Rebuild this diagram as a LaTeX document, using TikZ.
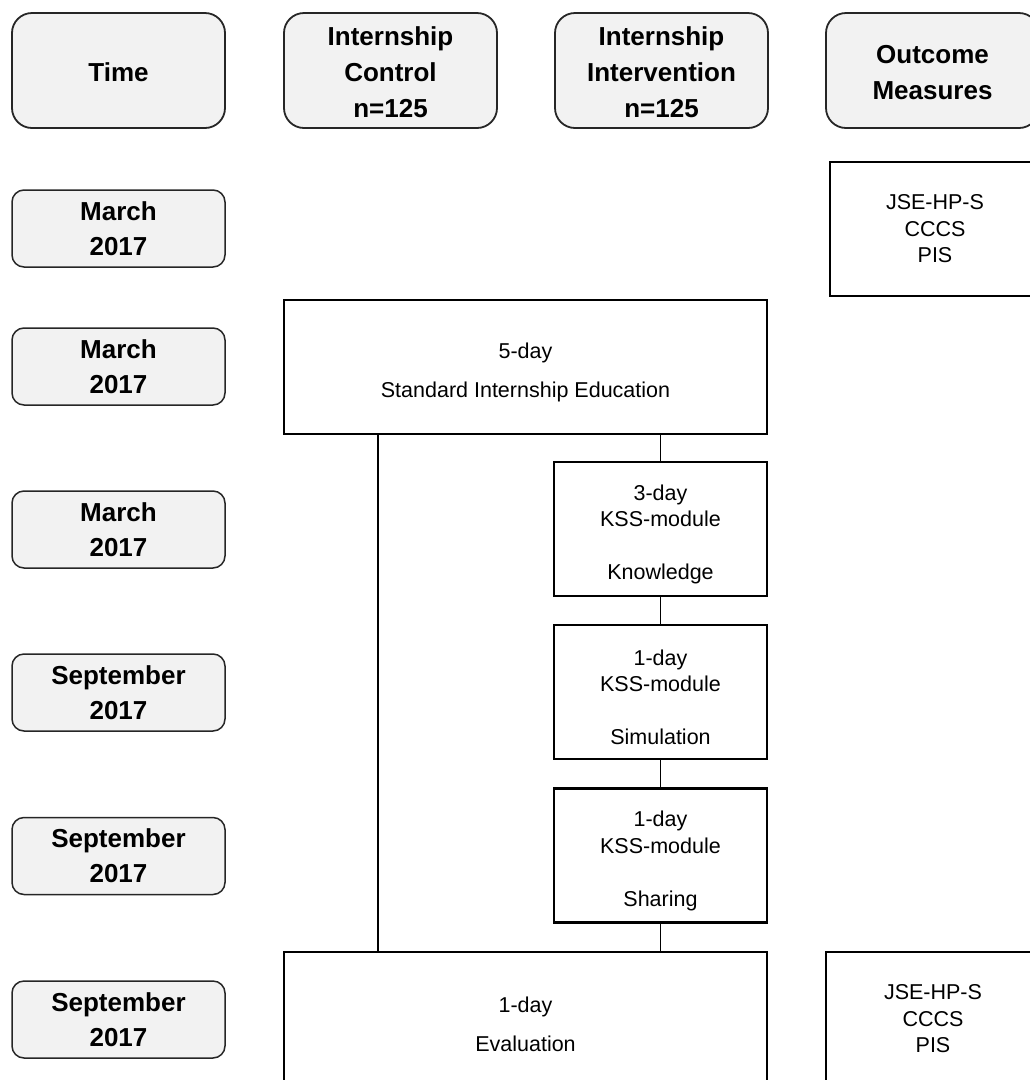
\documentclass[tikz,border=0pt]{standalone}
\usepackage{fontspec}
\setmainfont{Liberation Sans}
\newcommand{\lowstrut}{\rule{0pt}{26pt}}
\newcommand{\headstrut}{\rule{0pt}{23pt}}
\begin{document}
\begin{tikzpicture}[x=1pt,y=-1pt]

	% Define the styles for the boxes and the lines
	\tikzset{
		headbox/.style={draw=black!85, line width=1.8pt, fill=headgray, rounded corners=20pt,
			minimum width=213pt, minimum height=115pt, align=center, inner sep=0pt,
			font=\bfseries\fontsize{26}{36}\selectfont},
		timebox/.style={draw=black!85, line width=1.5pt, fill=headgray, rounded corners=12pt,
			minimum width=213pt, minimum height=77pt, align=center, inner sep=0pt,
			font=\bfseries\fontsize{26}{35}\selectfont},
		stepbox/.style={draw=black, line width=2.4pt, fill=white, align=center, inner sep=0pt,
			font=\fontsize{21.5}{26.5}\selectfont},
		link/.style={draw=black, line width=1.2pt}
	}
	\definecolor{headgray}{HTML}{F2F2F2}
	\useasboundingbox (0,0) rectangle (1030,1080);
	\clip (0,0) rectangle (1030,1080);

	% Header row
	\node[headbox] (time) at (118.5, 70.5) {\headstrut Time};
	\node[headbox] (ctrl) at (390.5, 70.5) {\headstrut Internship\\Control\\n=125};
	\node[headbox] (intv) at (661.5, 70.5) {\headstrut Internship\\Intervention\\n=125};
	\node[headbox] (outc) at (932.5, 70.5) {\headstrut Outcome\\Measures};

	% Time column
	\node[timebox] (t1) at (118.5, 228.5) {March\\2017};
	\node[timebox] (t2) at (118.5, 366.5) {March\\2017};
	\node[timebox] (t3) at (118.5, 529.5) {March\\2017};
	\node[timebox] (t4) at (118.5, 692.5) {September\\2017};
	\node[timebox] (t5) at (118.5, 856) {September\\2017};
	\node[timebox] (t6) at (118.5, 1019.5) {September\\2017};

	% Standard education and the KSS-modules
	\node[stepbox, minimum width=483pt, minimum height=134pt] (std) at (525.5, 367) {\lowstrut 5-day\\[12pt]Standard Internship Education};
	\node[stepbox, minimum width=213pt, minimum height=134pt] (know) at (660.5, 529) {\lowstrut 3-day\\KSS-module\\[26.5pt]Knowledge};
	\node[stepbox, minimum width=213pt, minimum height=134pt] (simu) at (660.5, 692) {\lowstrut 1-day\\KSS-module\\[26.5pt]Simulation};
	\node[stepbox, minimum width=213pt, minimum height=134pt] (shar) at (660.5, 855.5) {\lowstrut 1-day\\KSS-module\\[26.5pt]Sharing};
	\node[stepbox, minimum width=483pt, minimum height=134pt] (eval) at (525.5, 1019) {\lowstrut 1-day\\[13pt]Evaluation};

	% Outcome measures
	\node[stepbox, minimum width=210pt, minimum height=134pt] (om1) at (935, 229) {JSE-HP-S\\CCCS\\PIS};
	\node[stepbox, minimum width=214pt, minimum height=134pt] (om2) at (933, 1019) {JSE-HP-S\\CCCS\\PIS};

	% Connecting lines
	\coordinate (ctlx) at (378, 0);
	\draw[link] (std.south -| ctlx) -- (eval.north -| ctlx);
	\draw[link] (std.south -| know.north) -- (know.north);
	\draw[link] (know.south) -- (simu.north);
	\draw[link] (simu.south) -- (shar.north);
	\draw[link] (shar.south) -- (eval.north -| shar.south);

\end{tikzpicture}
\end{document}
